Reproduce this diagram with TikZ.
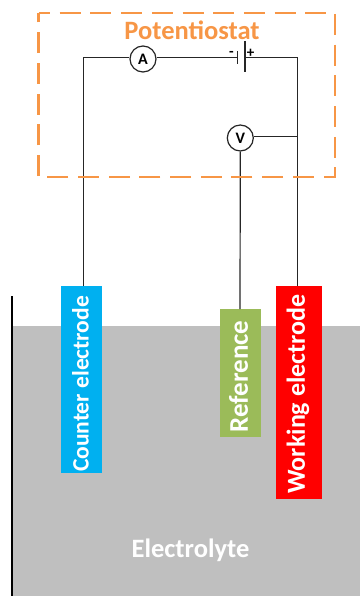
\documentclass[tikz,border=0pt]{standalone}
\usepackage{fontspec}
\setmainfont{Carlito}
\definecolor{potor}{HTML}{F79646}
\definecolor{elblue}{HTML}{00B0F0}
\definecolor{elgreen}{HTML}{9BBB59}
\definecolor{elgrey}{HTML}{BFBFBF}
\tikzset{
  wire/.style={draw=black!85,line width=1.2pt},
  meter/.style={circle,draw=black!85,line width=1.2pt,fill=white,minimum size=26pt,inner sep=0pt,font=\fontsize{16}{17}\selectfont\bfseries},
  eltext/.style={text=white,rotate=90,inner sep=0pt},
}
\begin{document}
\begin{tikzpicture}[x=1pt,y=-1pt]
\useasboundingbox (0,0) rectangle (360,596);
% electrolyte and wall
\fill[elgrey] (12,326) rectangle (360,596);
\draw[black,line width=2pt] (11.5,296) -- (11.5,596);
% electrodes
\fill[elblue] (61,286) rectangle (102,473);
\fill[elgreen] (220,309) rectangle (261,436.5);
\fill[red] (276,286) rectangle (322,499);
\node[eltext,font=\fontsize{23.5}{25}\selectfont\bfseries] (ce) at (80.5,384) {Counter electrode};
\node[eltext,font=\fontsize{27}{29}\selectfont\bfseries] (re) at (238.5,376.5) {Reference};
\node[eltext,font=\fontsize{26}{28}\selectfont\bfseries] (we) at (298,394) {Working electrode};
\node[text=white,font=\fontsize{26.5}{28}\selectfont\bfseries,inner sep=0pt] (ely) at (190.5,550) {Electrolyte};
% anchors of the wires
\coordinate (ceTop) at (83.5,286);
\coordinate (reTop) at (240,309);
\coordinate (weTop) at (297.5,286);
\coordinate (tl) at (83.5,57.5);
\coordinate (tr) at (297.5,57.5);
\coordinate (jn) at (297.5,136.7);
% meters
\node[meter] (A) at (143,59) {A};
\node[meter] (V) at (240.3,138) {V};
% battery
\coordinate (batN) at (237.5,57.5);
\coordinate (batP) at (244.7,57.5);
\draw[wire] (237.5,51) -- (237.5,64);
\draw[wire,line width=1.6pt] (244.7,41) -- (244.7,72);
\node[font=\fontsize{15}{16}\selectfont\bfseries,inner sep=0pt] (minus) at (231.5,53.5) {-};
\node[font=\fontsize{15}{16}\selectfont\bfseries,inner sep=0pt] (plus) at (250.5,53.5) {+};
% wires
\draw[wire,line join=miter] (ceTop) -- (tl) -- (A.west |- tl);
\draw[wire] (A.east |- tl) -- (batN);
\draw[wire] (batP) -- (tr) -- (weTop);
\draw[wire] (V.east |- jn) -- (jn);
\draw[wire] (V.south) -- (reTop);
% potentiostat box
\draw[potor,line width=2.5pt,dash pattern=on 21pt off 9.7pt,dash phase=9.5pt] (38.5,13) -- (335,13) -- (335,177) -- (38.5,177) -- cycle;
\node[text=potor,font=\fontsize{26.5}{28}\selectfont\bfseries,inner sep=0pt] (pot) at (192,30) {Potentiostat};
\end{tikzpicture}
\end{document}
